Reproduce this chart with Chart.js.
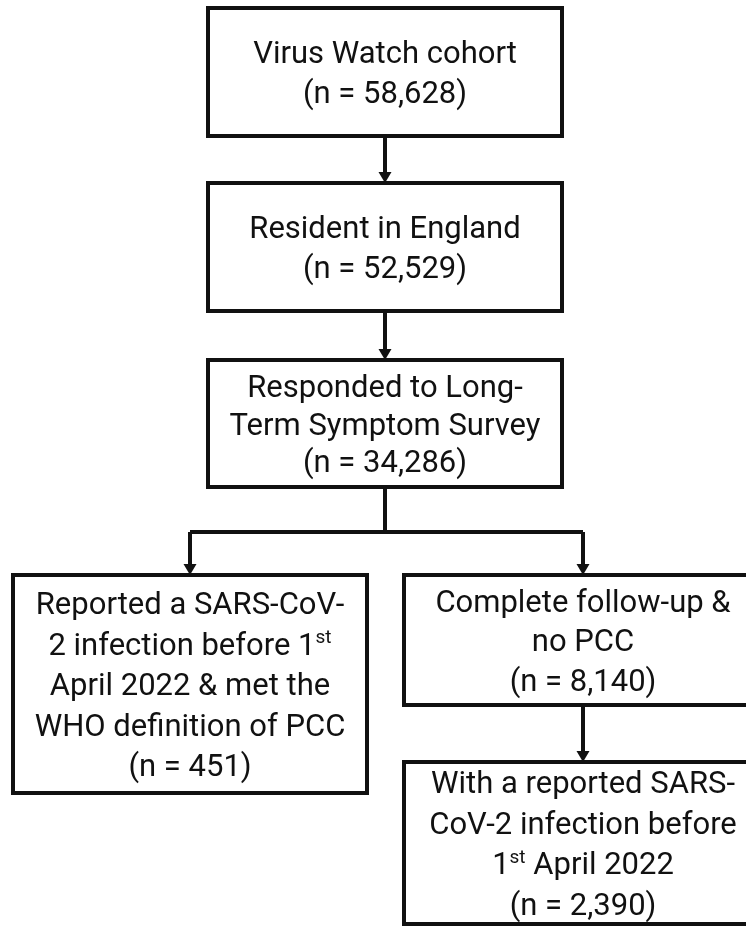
<!DOCTYPE html>
<html>
<head>
<meta charset="utf-8">
<script src="https://cdn.jsdelivr.net/npm/chart.js@4.4.1/dist/chart.umd.min.js"></script>
<style>
  html, body { margin: 0; padding: 0; background: #fff; }
  canvas { display: block; }
</style>
</head>
<body>
<canvas id="flowChart" width="746" height="926"></canvas>
<script>
// Etapas del diagrama (texto de cada caja, "^" marca superíndice)
const stageLabels = [
    ['Virus Watch cohort'],
    ['Resident in England'],
    ['Responded to Long-', 'Term Symptom Survey'],
    ['Reported a SARS-CoV-', '2 infection before 1^st', 'April 2022 & met the', 'WHO definition of PCC'],
    ['Complete follow-up &', 'no PCC'],
    ['With a reported SARS-', 'CoV-2 infection before', '1^st April 2022']
];
const stageCounts = [58628, 52529, 34286, 451, 8140, 2390];
// De qué etapa sale cada flecha
const stageParent = [null, 0, 1, 2, 2, 4];

// Disposición (en unidades de los ejes)
const boxes = [
    { x0: 208, x1: 562, y0: 8,   y1: 136, gap: 40 },
    { x0: 208, x1: 562, y0: 183, y1: 311, gap: 40 },
    { x0: 208, x1: 562, y0: 360, y1: 487, gap: 37.5 },
    { x0: 13,  x1: 367, y0: 575, y1: 793, gap: 40.5 },
    { x0: 404, x1: 762, y0: 575, y1: 705, gap: 39.5 },
    { x0: 404, x1: 762, y0: 762, y1: 924, gap: 40.5 }
];
const splitY = 532;
const fontFamily = 'Roboto, "Liberation Sans", sans-serif';
const fontSize = 31;

function drawLine(ctx, text, cx, cy) {
    const parts = text.split(/\^(\w+)/);
    const supSize = Math.round(fontSize * 0.6);
    let total = 0;
    const segs = parts.map((t, i) => {
        const sup = i % 2 === 1;
        ctx.font = (sup ? supSize : fontSize) + 'px ' + fontFamily;
        const w = ctx.measureText(t).width;
        total += w;
        return { t, sup, w };
    });
    let x = cx - total / 2;
    const base = cy + fontSize * 0.36;
    segs.forEach(s => {
        ctx.font = (s.sup ? supSize : fontSize) + 'px ' + fontFamily;
        ctx.fillText(s.t, x, s.sup ? base - fontSize * 0.38 : base);
        x += s.w;
    });
}

function arrow(ctx, x, y0, y1) {
    ctx.beginPath();
    ctx.moveTo(x, y0);
    ctx.lineTo(x, y1 - 9);
    ctx.stroke();
    ctx.beginPath();
    ctx.moveTo(x - 6.5, y1 - 11);
    ctx.lineTo(x + 6.5, y1 - 11);
    ctx.lineTo(x, y1);
    ctx.closePath();
    ctx.fill();
}

const flowPlugin = {
    id: 'flowBoxes',
    afterDatasetsDraw(chart) {
        const ctx = chart.ctx;
        const px = v => chart.scales.x.getPixelForValue(v);
        const py = v => chart.scales.y.getPixelForValue(v);
        ctx.save();
        ctx.strokeStyle = '#111';
        ctx.fillStyle = '#111';
        ctx.lineWidth = 4;

        // Conectores
        stageParent.forEach((p, i) => {
            if (p === null) return;
            const a = boxes[p], b = boxes[i];
            const ax = px((a.x0 + a.x1) / 2);
            const bx = px((b.x0 + b.x1) / 2);
            if (Math.abs(ax - bx) < 1) {
                arrow(ctx, bx, py(a.y1), py(b.y0));
            } else {
                ctx.beginPath();
                ctx.moveTo(ax, py(a.y1));
                ctx.lineTo(ax, py(splitY));
                ctx.lineTo(bx, py(splitY));
                ctx.stroke();
                arrow(ctx, bx, py(splitY), py(b.y0));
            }
        });

        // Cajas y texto
        ctx.lineWidth = 4;
        ctx.textAlign = 'left';
        ctx.textBaseline = 'alphabetic';
        boxes.forEach((b, i) => {
            const x0 = px(b.x0), x1 = px(b.x1), y0 = py(b.y0), y1 = py(b.y1);
            ctx.fillStyle = '#fff';
            ctx.fillRect(x0, y0, x1 - x0, y1 - y0);
            ctx.strokeRect(x0, y0, x1 - x0, y1 - y0);
            const lines = stageLabels[i].concat('(n = ' + stageCounts[i].toLocaleString('en-US') + ')');
            const cx = (x0 + x1) / 2;
            const cy = (y0 + y1) / 2;
            const gap = b.gap;
            ctx.fillStyle = '#111';
            lines.forEach((l, k) => {
                drawLine(ctx, l, cx, cy + (k - (lines.length - 1) / 2) * gap);
            });
        });
        ctx.restore();
    }
};

document.addEventListener('DOMContentLoaded', function () {
    const ctx = document.getElementById('flowChart').getContext('2d');
    new Chart(ctx, {
        type: 'scatter',
        data: {
            datasets: [{ data: [], pointRadius: 0 }]
        },
        options: {
            responsive: false,
            animation: false,
            layout: { padding: 0 },
            scales: {
                x: { display: false, min: 0, max: 746 },
                y: { display: false, min: 0, max: 926, reverse: true }
            },
            plugins: {
                legend: { display: false },
                tooltip: { enabled: false }
            }
        },
        plugins: [flowPlugin]
    });
});
</script>
</body>
</html>
